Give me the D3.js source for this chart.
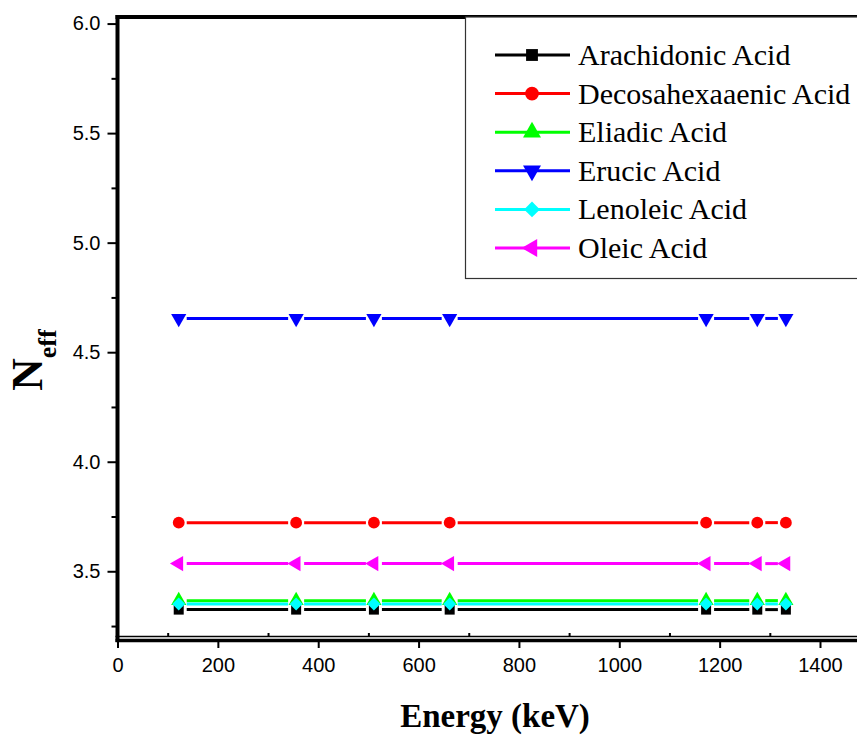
<!DOCTYPE html>
<html>
<head>
<meta charset="utf-8">
<script src="https://cdn.jsdelivr.net/npm/d3@7"></script>
<style>
  body { margin: 0; background: #fff; }
  svg { display: block; }
</style>
</head>
<body>
<div id="chart"></div>
<script>
// energies (keV)
const energies = [122, 356, 511, 662, 1173, 1275, 1332];

// Neff per acid
const arachidonic = [3.325, 3.325, 3.325, 3.325, 3.325, 3.325, 3.325];
const decosahexaaenic = [3.722, 3.722, 3.722, 3.722, 3.722, 3.722, 3.722];
const eliadic = [3.366, 3.366, 3.366, 3.366, 3.366, 3.366, 3.366];
const erucic = [4.654, 4.654, 4.654, 4.654, 4.654, 4.654, 4.654];
const lenoleic = [3.351, 3.351, 3.351, 3.351, 3.351, 3.351, 3.351];
const oleic = [3.535, 3.535, 3.535, 3.535, 3.535, 3.535, 3.535];

const seriesNames = ["Arachidonic Acid", "Decosahexaaenic Acid", "Eliadic Acid",
  "Erucic Acid", "Lenoleic Acid", "Oleic Acid"];
const seriesValues = [arachidonic, decosahexaaenic, eliadic, erucic, lenoleic, oleic];
const seriesColors = ["#000000", "#ff0000", "#00ff00", "#0000ff", "#00ffff", "#ff00ff"];

const xTicks = [0, 200, 400, 600, 800, 1000, 1200, 1400];
const xMinor = [100, 300, 500, 700, 900, 1100, 1300];
const yTicks = [3.5, 4.0, 4.5, 5.0, 5.5, 6.0];
const yMinor = [3.25, 3.75, 4.25, 4.75, 5.25, 5.75];

const width = 857, height = 738;

const svg = d3.select("#chart").append("svg")
  .attr("width", width)
  .attr("height", height);

const x = d3.scaleLinear().domain([0, 1400]).range([117.5, 820]);
const y = d3.scaleLinear().domain([3.2, 6.03]).range([637, 17]);

// marker shapes, one per series
const markers = [
  { type: d3.symbolSquare, size: 100, rot: 0 },
  { type: d3.symbolCircle, size: 110, rot: 0 },
  { type: d3.symbolTriangle, size: 100, rot: 0 },
  { type: d3.symbolTriangle, size: 100, rot: 180 },
  { type: d3.symbolSquare, size: 85, rot: 45 },
  { type: d3.symbolTriangle, size: 100, rot: -90 },
];

// ---- axes ----
const yAxis = svg.append("g")
  .attr("transform", "translate(117.5,0)")
  .call(d3.axisLeft(y).tickValues(yTicks).tickFormat(d3.format(".1f")).tickSize(10).tickPadding(7));
yAxis.select(".domain").remove();
yAxis.selectAll(".tick line").attr("stroke-width", 2);
yAxis.selectAll(".tick text")
  .attr("font-family", "Liberation Sans, Arial, sans-serif")
  .attr("font-size", "20px")
  .attr("fill", "#000");

const yAxisMinor = svg.append("g")
  .attr("transform", "translate(117.5,0)")
  .call(d3.axisLeft(y).tickValues(yMinor).tickFormat("").tickSize(6));
yAxisMinor.select(".domain").remove();
yAxisMinor.selectAll(".tick line").attr("stroke-width", 2);

const xAxis = svg.append("g")
  .attr("transform", "translate(0,640)")
  .call(d3.axisBottom(x).tickValues(xTicks).tickFormat(d3.format("d")).tickSize(8).tickPadding(10));
xAxis.select(".domain").remove();
xAxis.selectAll(".tick line").attr("stroke-width", 2);
xAxis.selectAll(".tick text")
  .attr("font-family", "Liberation Sans, Arial, sans-serif")
  .attr("font-size", "20px")
  .attr("fill", "#000");

const xAxisMinor = svg.append("g")
  .attr("transform", "translate(0,637)")
  .call(d3.axisTop(x).tickValues(xMinor).tickFormat("").tickSize(4));
xAxisMinor.select(".domain").remove();
xAxisMinor.selectAll(".tick line").attr("stroke-width", 2);

// frame lines
svg.append("line").attr("x1", 117.5).attr("x2", 117.5).attr("y1", 15).attr("y2", 642)
  .attr("stroke", "#000").attr("stroke-width", 4);
svg.append("line").attr("x1", 115.5).attr("x2", width).attr("y1", 17).attr("y2", 17)
  .attr("stroke", "#000").attr("stroke-width", 4);
svg.append("line").attr("x1", 115.5).attr("x2", width).attr("y1", 636.5).attr("y2", 636.5)
  .attr("stroke", "#000").attr("stroke-width", 1.5);
svg.append("line").attr("x1", 115.5).attr("x2", width).attr("y1", 640.5).attr("y2", 640.5)
  .attr("stroke", "#000").attr("stroke-width", 3.5);

// ---- series ----
const gap = 8;
seriesValues.forEach(function(vals, i) {
  const g = svg.append("g");
  const pts = energies.map((e, j) => [x(e), y(vals[j])]);
  for (let j = 0; j < pts.length - 1; j++) {
    const a = pts[j], b = pts[j + 1];
    g.append("line")
      .attr("x1", a[0] + gap).attr("y1", a[1])
      .attr("x2", b[0] - gap).attr("y2", b[1])
      .attr("stroke", seriesColors[i])
      .attr("stroke-width", 3);
  }
  const m = markers[i];
  g.selectAll("path").data(pts).enter().append("path")
    .attr("d", d3.symbol().type(m.type).size(m.size))
    .attr("transform", d => `translate(${d[0]},${d[1]}) rotate(${m.rot})`)
    .attr("fill", seriesColors[i]);
});

// ---- legend ----
svg.append("rect")
  .attr("x", 465.5).attr("y", 17).attr("width", 420).attr("height", 261.5)
  .attr("fill", "#fff").attr("stroke", "#333").attr("stroke-width", 1.2);

const legend = svg.append("g");
seriesNames.forEach(function(name, i) {
  const ly = 55 + i * 38.6;
  legend.append("line")
    .attr("x1", 495).attr("x2", 570).attr("y1", ly).attr("y2", ly)
    .attr("stroke", seriesColors[i]).attr("stroke-width", 3);
  const m = markers[i];
  legend.append("path")
    .attr("d", d3.symbol().type(m.type).size(m.size + 40))
    .attr("transform", `translate(532,${ly}) rotate(${m.rot})`)
    .attr("fill", seriesColors[i]);
  legend.append("text")
    .attr("x", 578).attr("y", ly + 10)
    .attr("font-family", "Liberation Serif, Times New Roman, serif")
    .attr("font-size", "30px")
    .attr("fill", "#000")
    .text(name);
});

// ---- titles ----
svg.append("text")
  .attr("x", 495).attr("y", 727)
  .attr("text-anchor", "middle")
  .attr("font-family", "Liberation Serif, Times New Roman, serif")
  .attr("font-weight", "bold")
  .attr("font-size", "33px")
  .attr("fill", "#000")
  .text("Energy (keV)");

const yTitle = svg.append("text")
  .attr("transform", "translate(42,360) rotate(-90)")
  .attr("text-anchor", "middle")
  .attr("font-family", "Liberation Serif, Times New Roman, serif")
  .attr("font-weight", "bold")
  .attr("fill", "#000");
yTitle.append("tspan").attr("font-size", "45px").text("N");
yTitle.append("tspan").attr("font-size", "26px").attr("dy", 14).text("eff");
</script>
</body>
</html>
